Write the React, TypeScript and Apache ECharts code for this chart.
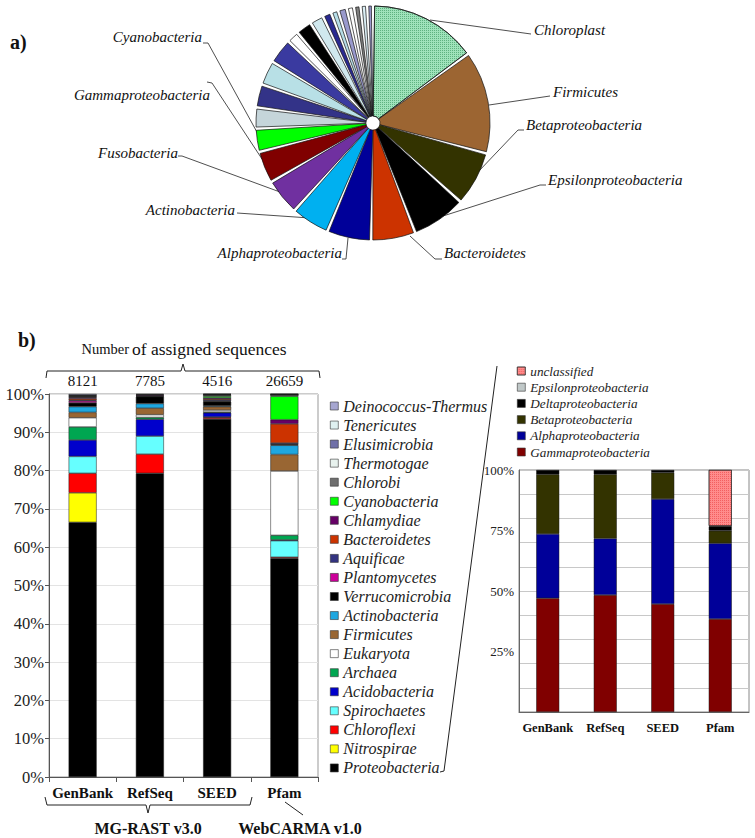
import React, { useEffect, useRef } from 'react';
import * as echarts from 'echarts';

const FONT = "'Liberation Serif', 'Times New Roman', serif";

// ---------- a) pie ----------
const pieNames = [
  'Chloroplast', 'Firmicutes', 'Betaproteobacteria', 'Epsilonproteobacteria', 'Bacteroidetes',
  'Alphaproteobacteria', 'Actinobacteria', 'Fusobacteria', 'Gammaproteobacteria', 'Cyanobacteria',
  'other-11', 'other-12', 'other-13', 'other-14', 'other-15', 'other-16', 'other-17',
  'other-18', 'other-19', 'other-20', 'other-21', 'other-22', 'other-23', 'other-24',
];
const pieValues = [15.0, 14.2, 7.5, 7.5, 6.1, 6.1, 5.3, 5.0, 4.4, 3.2, 2.9, 3.2, 3.4, 3.5, 1.7, 2.2, 1.9, 1.2, 1.0, 1.2, 1.0, 0.9, 0.9, 0.8];
const pieColors = [
  '#9fe3bb', '#9c6532', '#333300', '#000000', '#cc3300', '#000099', '#00b0f0', '#7030a0', '#800000', '#00ff00',
  '#c5d5da', '#333388', '#b8e0e6', '#3a3aa0', '#ffffff', '#000000', '#d0e8ee', '#2a2a90', '#b7dee8', '#9999cc',
  '#ffffff', '#808080', '#dbeef4', '#9999cc',
];
const pieLabelled = 10;

// ---------- b) stacked bars ----------
const categories = ['GenBank', 'RefSeq', 'SEED', 'Pfam'];
const counts = ['8121', '7785', '4516', '26659'];

// bottom -> top
const taxa = [
  'Proteobacteria', 'Nitrospirae', 'Chloroflexi', 'Spirochaetes', 'Acidobacteria', 'Archaea', 'Eukaryota',
  'Firmicutes', 'Actinobacteria', 'Verrucomicrobia', 'Plantomycetes', 'Aquificae', 'Bacteroidetes',
  'Chlamydiae', 'Cyanobacteria', 'Chlorobi', 'Thermotogae', 'Elusimicrobia', 'Tenericutes', 'Deinococcus-Thermus',
];
const taxaColors = [
  '#000000', '#ffff00', '#ff0000', '#66ffff', '#0000cc', '#00a651', '#ffffff',
  '#996633', '#1ea7e0', '#000000', '#cc0099', '#333380', '#cc3300',
  '#660066', '#00ff00', '#6e6e6e', '#e8f2ee', '#7070a8', '#dff0f0', '#a6a6d0',
];
const proteobacteria = [66.5, 79.3, 93.5, 57.1];
const nitrospirae = [7.7, 0, 0, 0];
const chloroflexi = [5.1, 5.0, 0.4, 0.3];
const spirochaetes = [4.4, 4.7, 0.1, 4.3];
const acidobacteria = [4.3, 4.4, 1.1, 0.2];
const archaea = [3.4, 0.5, 0.2, 1.2];
const eukaryota = [2.4, 0.7, 0.5, 16.8];
const firmicutes = [1.4, 1.7, 0.9, 4.3];
const actinobacteria = [1.5, 1.2, 0.2, 2.4];
const verrucomicrobia = [1.0, 1.8, 1.1, 0.2];
const plantomycetes = [0.5, 0.1, 0.1, 0.1];
const aquificae = [0.2, 0.1, 0.3, 0.3];
const bacteroidetes = [0.4, 0.1, 0.3, 5.0];
const chlamydiae = [0.3, 0.2, 0.3, 1.1];
const cyanobacteria = [0.1, 0.1, 0.4, 6.1];
const chlorobi = [0.2, 0.1, 0.3, 0.4];
const thermotogae = [0.1, 0, 0.1, 0.05];
const elusimicrobia = [0.1, 0, 0.1, 0.05];
const tenericutes = [0.1, 0, 0.05, 0.05];
const deinococcus = [0.3, 0, 0.05, 0.05];
const taxaValues = [
  proteobacteria, nitrospirae, chloroflexi, spirochaetes, acidobacteria, archaea, eukaryota,
  firmicutes, actinobacteria, verrucomicrobia, plantomycetes, aquificae, bacteroidetes,
  chlamydiae, cyanobacteria, chlorobi, thermotogae, elusimicrobia, tenericutes, deinococcus,
];

// inset: bottom -> top
const subTaxa = ['Gammaproteobacteria', 'Alphaproteobacteria', 'Betaproteobacteria', 'Deltaproteobacteria', 'Epsilonproteobacteria', 'unclassified'];
const subColors = ['#800000', '#000099', '#333300', '#000000', '#c0c8c8', '#ff8c8c'];
const gamma = [47.0, 48.3, 44.6, 38.4];
const alpha = [26.6, 23.4, 43.4, 31.3];
const beta = [24.6, 26.5, 10.9, 5.2];
const delta = [1.8, 1.8, 1.1, 1.8];
const epsilon = [0, 0, 0, 0.2];
const unclassified = [0, 0, 0, 23.1];
const subValues = [gamma, alpha, beta, delta, epsilon, unclassified];

// label placement for pie (layout only)
const pieLabelPlacement: Record<number, { x: number; y: number; align: string; line: number[][] }> = {
  0: { x: 534, y: 30, align: 'left', line: [[430, 20], [531, 34]] },
  1: { x: 553, y: 92, align: 'left', line: [[489, 105], [550, 96]] },
  2: { x: 526, y: 125, align: 'left', line: [[478, 172], [518, 130], [524, 130]] },
  3: { x: 548, y: 180, align: 'left', line: [[443, 216], [540, 185], [546, 185]] },
  4: { x: 444, y: 253, align: 'left', line: [[410, 236], [435, 259], [442, 259]] },
  5: { x: 342, y: 253, align: 'right', line: [[348, 238], [346, 259], [342, 259]] },
  6: { x: 235, y: 210, align: 'right', line: [[310, 218], [237, 213]] },
  7: { x: 178, y: 153, align: 'right', line: [[280, 192], [182, 156], [178, 156]] },
  8: { x: 210, y: 95, align: 'right', line: [[262, 159], [212, 83], [207, 82]] },
  9: { x: 202, y: 37, align: 'right', line: [[258, 134], [208, 43], [203, 43]] },
};

const nz = (v: number) => (v === 0 ? null : v);

export default function App() {
  const ref = useRef<HTMLDivElement>(null);
  useEffect(() => {
    if (!ref.current) return;
    const chart = echarts.init(ref.current, undefined, { renderer: 'svg' });

    const mainSeries = taxa.map((name, i) => ({
      type: 'bar',
      name,
      stack: 'main',
      xAxisIndex: 0,
      yAxisIndex: 0,
      barWidth: 28,
      itemStyle: { color: taxaColors[i], borderColor: '#1a1a1a', borderWidth: 0.5 },
      emphasis: { disabled: true },
      data: taxaValues[i].map(nz),
    }));

    const subSeries = subTaxa.map((name, i) => ({
      type: 'bar',
      name,
      stack: 'inset',
      xAxisIndex: 2,
      yAxisIndex: 1,
      barWidth: 23,
      itemStyle: {
        color: subColors[i],
        borderColor: '#1a1a1a',
        borderWidth: 0.5,
        ...(name === 'unclassified'
          ? { decal: { symbol: 'rect', symbolSize: 1, dashArrayX: [1, 1], dashArrayY: [1, 1], color: 'rgba(230,60,60,0.55)' } }
          : {}),
      },
      emphasis: { disabled: true },
      data: subValues[i].map(nz),
    }));

    const pieSeries = {
      type: 'pie',
      center: [373, 123],
      radius: [7, 117],
      startAngle: 90,
      clockwise: true,
      padAngle: 1.6,
      avoidLabelOverlap: false,
      emphasis: { disabled: true },
      itemStyle: { borderColor: '#111', borderWidth: 0.7 },
      label: { show: true, position: 'outside', fontFamily: FONT, fontStyle: 'italic', fontSize: 15, color: '#111' },
      labelLine: { show: true, length: 10, length2: 10, lineStyle: { color: '#222', width: 0.8 } },
      labelLayout: (p: any) => {
        const c = pieLabelPlacement[p.dataIndex];
        if (!c) return {};
        return { x: c.x, y: c.y, align: c.align, verticalAlign: 'middle', labelLinePoints: c.line };
      },
      data: pieNames.map((name, i) => ({
        name,
        value: pieValues[i],
        itemStyle: {
          color: pieColors[i],
          ...(i === 0
            ? { decal: { symbol: 'rect', symbolSize: 1, dashArrayX: [1, 1], dashArrayY: [1, 1], color: 'rgba(30,130,70,0.5)' } }
            : {}),
        },
        label: { show: i < pieLabelled },
        labelLine: { show: i < pieLabelled },
      })),
    };

    const txt = (x: number, y: number, text: string, extra: any = {}) => ({
      type: 'text',
      x,
      y,
      style: { text, fontFamily: FONT, fontSize: 15, fill: '#111', align: 'center', verticalAlign: 'middle', ...extra },
    });
    const line = (points: number[][]) => ({
      type: 'polyline',
      shape: { points },
      style: { stroke: '#222', lineWidth: 1, fill: null },
    });

    const option: any = {
      animation: false,
      backgroundColor: '#ffffff',
      textStyle: { fontFamily: FONT },
      grid: [
        { left: 49, top: 394, width: 269, height: 383, show: true, borderColor: '#999', borderWidth: 1 },
        { left: 519, top: 470, width: 230, height: 242, show: true, borderColor: '#888', borderWidth: 1 },
      ],
      xAxis: [
        {
          type: 'category', gridIndex: 0, data: categories,
          axisLine: { lineStyle: { color: '#555' } },
          axisTick: { show: true, length: 5, lineStyle: { color: '#555' } },
          axisLabel: { interval: 0, fontFamily: FONT, fontWeight: 'bold', fontSize: 15, color: '#111', margin: 8 },
        },
        {
          type: 'category', gridIndex: 0, position: 'top', data: counts,
          axisLine: { show: false }, axisTick: { show: false },
          axisLabel: { interval: 0, fontFamily: FONT, fontSize: 15, color: '#111', margin: 6 },
        },
        {
          type: 'category', gridIndex: 1, data: categories,
          axisLine: { lineStyle: { color: '#666' } }, axisTick: { show: false },
          axisLabel: { interval: 0, fontFamily: FONT, fontWeight: 'bold', fontSize: 12.5, color: '#111', margin: 9 },
        },
      ],
      yAxis: [
        {
          type: 'value', gridIndex: 0, min: 0, max: 100, interval: 10,
          axisLine: { show: true, lineStyle: { color: '#555' } },
          axisTick: { show: true, length: 4, lineStyle: { color: '#555' } },
          axisLabel: { formatter: '{value}%', fontFamily: FONT, fontSize: 16.5, color: '#222', margin: 5 },
          splitLine: { show: true, lineStyle: { color: '#e3e3e3' } },
        },
        {
          type: 'value', gridIndex: 1, min: 0, max: 100, interval: 25,
          axisLine: { show: true, lineStyle: { color: '#666' } }, axisTick: { show: false },
          axisLabel: { formatter: (v: number) => (v === 0 ? '' : v + '%'), fontFamily: FONT, fontSize: 13, color: '#222', margin: 5 },
          splitLine: { show: false },
        },
        {
          type: 'value', gridIndex: 1, min: 0, max: 100, interval: 10,
          axisLine: { show: false }, axisTick: { show: false }, axisLabel: { show: false },
          splitLine: { show: true, lineStyle: { color: '#c8c8c8' } },
        },
      ],
      legend: [
        {
          orient: 'vertical', left: 330, top: 398, padding: 0, itemWidth: 8, itemHeight: 8, itemGap: 3.05,
          icon: 'rect', selectedMode: false, data: taxa.slice().reverse(),
          itemStyle: { borderColor: '#333', borderWidth: 0.6 },
          textStyle: { fontFamily: FONT, fontStyle: 'italic', fontSize: 16, lineHeight: 16, color: '#222' },
        },
        {
          orient: 'vertical', left: 517, top: 364, padding: 0, itemWidth: 8, itemHeight: 8, itemGap: 2.2,
          icon: 'rect', selectedMode: false, data: subTaxa.slice().reverse(),
          itemStyle: { borderColor: '#333', borderWidth: 0.6 },
          textStyle: { fontFamily: FONT, fontStyle: 'italic', fontSize: 13.2, lineHeight: 14, color: '#222' },
        },
      ],
      graphic: [
        txt(10, 42, 'a)', { fontWeight: 'bold', fontSize: 20, align: 'left' }),
        txt(18, 340, 'b)', { fontWeight: 'bold', fontSize: 20, align: 'left' }),
        {
          type: 'text', x: 184, y: 349,
          style: {
            text: '{a|Number} {b|of assigned sequences}',
            align: 'center', verticalAlign: 'middle', fill: '#111', fontFamily: FONT,
            rich: {
              a: { fontFamily: FONT, fontSize: 14.5, fill: '#111' },
              b: { fontFamily: FONT, fontSize: 17.5, fill: '#111' },
            },
          },
        },
        line([[46, 378], [47, 371], [181, 371], [183, 364], [185, 371], [319, 371], [320, 378]]),
        line([[45, 797], [47, 805], [146, 805], [148, 813], [150, 805], [250, 805], [252, 797]]),
        txt(148, 828, 'MG-RAST v3.0', { fontWeight: 'bold', fontSize: 16 }),
        line([[285, 802], [303, 815]]),
        txt(300, 828, 'WebCARMA v1.0', { fontWeight: 'bold', fontSize: 16 }),
        line([[440, 772], [444, 771], [497, 366]]),
      ],
      series: [pieSeries, ...mainSeries, ...subSeries],
    };

    chart.setOption(option);
    return () => chart.dispose();
  }, []);

  return (
    <div
      ref={ref}
      style={{ position: 'absolute', left: 0, top: 0, width: 755, height: 838, background: '#fff' }}
    />
  );
}
